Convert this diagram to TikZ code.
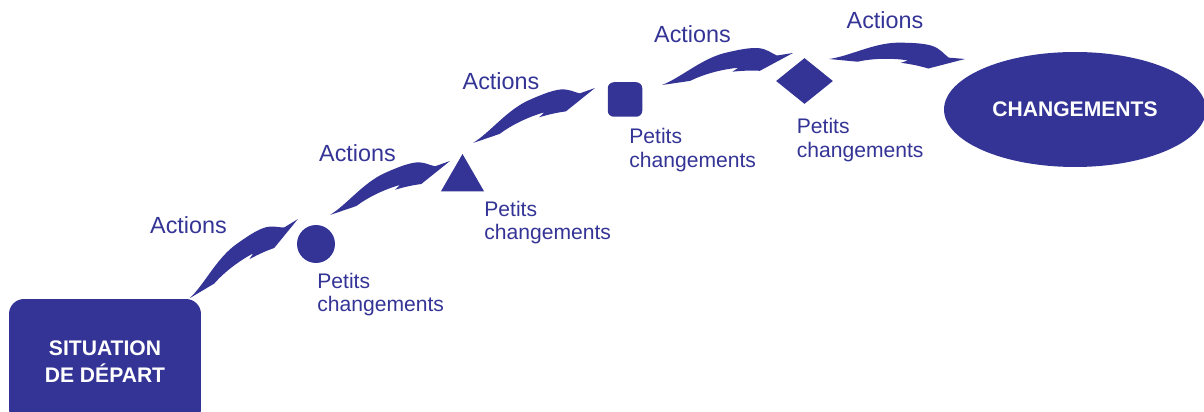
\documentclass[tikz,border=0pt]{standalone}
\usepackage{fontspec}
\setmainfont{Liberation Sans}
\usepackage{tikz}
\usetikzlibrary{shapes.geometric,calc}
\definecolor{ink}{RGB}{52,52,150}

% curved action arrow from tail #1 to tip #2
\newcommand{\actionarrow}[2]{%
  \pgfmathanglebetweenpoints{\pgfpointanchor{#1}{center}}{\pgfpointanchor{#2}{center}}%
  \let\arrowangle\pgfmathresult
  \pgfpointdiff{\pgfpointanchor{#1}{center}}{\pgfpointanchor{#2}{center}}%
  \pgfgetlastxy{\arrowdx}{\arrowdy}%
  \pgfmathveclen{\arrowdx}{\arrowdy}%
  \let\arrowlen\pgfmathresult
  \fill[actionfill,shift={(#1)},rotate=\arrowangle,x=\arrowlen pt,y=\arrowlen pt]
    (0,0) -- (0.21,-0.02) .. controls (0.32,0.005) and (0.46,0.008) .. (0.58,-0.01)
    -- (0.53,-0.028) .. controls (0.62,-0.04) and (0.68,-0.055) .. (0.73,-0.07)
    -- (1,0) -- (0.88,0.01) .. controls (0.84,0.04) and (0.82,0.075) .. (0.76,0.096)
    .. controls (0.7,0.115) and (0.62,0.12) .. (0.5,0.12)
    .. controls (0.32,0.115) and (0.15,0.02) .. (0,0) -- cycle;
}

\begin{document}
\begin{tikzpicture}[line cap=round,line join=round,x=0.02cm,y=0.02cm,
    actionfill/.style={fill=ink},
    markshape/.style={fill=ink,inner sep=0pt},
    bigshape/.style={fill=ink,text=white,inner sep=0pt,align=center,font=\fontsize{12}{15.3}\selectfont\bfseries},
    actionlabel/.style={text=ink,inner sep=0pt,font=\fontsize{13.3}{16}\selectfont},
    changelabel/.style={text=ink,inner sep=0pt,align=left,font=\fontsize{12}{13.5}\selectfont}]
  \useasboundingbox (0,0) rectangle (1204,412);
  \clip (0,0) rectangle (1204,412);
  % start and goal
  \node[bigshape,rounded corners=0.3cm,minimum width=3.84cm,minimum height=2.5cm] (start) at (105,50.5) {SITUATION\\DE DÉPART};
  \node[bigshape,ellipse,minimum width=5.24cm,minimum height=2.3cm] (goal) at (1075,302.5) {CHANGEMENTS};
  % small changes
  \node[markshape,circle,minimum size=0.76cm] (dot) at (316,168) {};
  \node[markshape,regular polygon,regular polygon sides=3,minimum size=1cm] (tri) at (462.5,233) {};
  \node[markshape,rounded corners=0.12cm,minimum size=0.69cm] (sq) at (625,312.5) {};
  \node[markshape,diamond,minimum width=1.14cm,minimum height=0.92cm] (dia) at (804.5,331) {};
  \node[changelabel,anchor=base west] (chg1) at (317,100) {Petits\\changements};
  \node[changelabel,anchor=base west] (chg2) at (484,172) {Petits\\changements};
  \node[changelabel,anchor=base west] (chg3) at (629,244.7) {Petits\\changements};
  \node[changelabel,anchor=base west] (chg4) at (796.5,254.7) {Petits\\changements};
  % arrows
  \coordinate (from1) at (190,114);
  \coordinate (to1) at (298,193);
  \coordinate (from2) at (330,197);
  \coordinate (to2) at (450,251);
  \coordinate (from3) at (473,269);
  \coordinate (to3) at (595,324);
  \coordinate (from4) at (662,327);
  \coordinate (to4) at (793,359);
  \coordinate (from5) at (829,353);
  \coordinate (to5) at (965,353);
  \foreach \i in {1,...,5} \actionarrow{from\i}{to\i};
  \node[actionlabel,anchor=base] (act1) at (188.5,178) {Actions};
  \node[actionlabel,anchor=base] (act2) at (357.5,250) {Actions};
  \node[actionlabel,anchor=base] (act3) at (501,322) {Actions};
  \node[actionlabel,anchor=base] (act4) at (692.5,369.5) {Actions};
  \node[actionlabel,anchor=base] (act5) at (885,383) {Actions};
\end{tikzpicture}
\end{document}
